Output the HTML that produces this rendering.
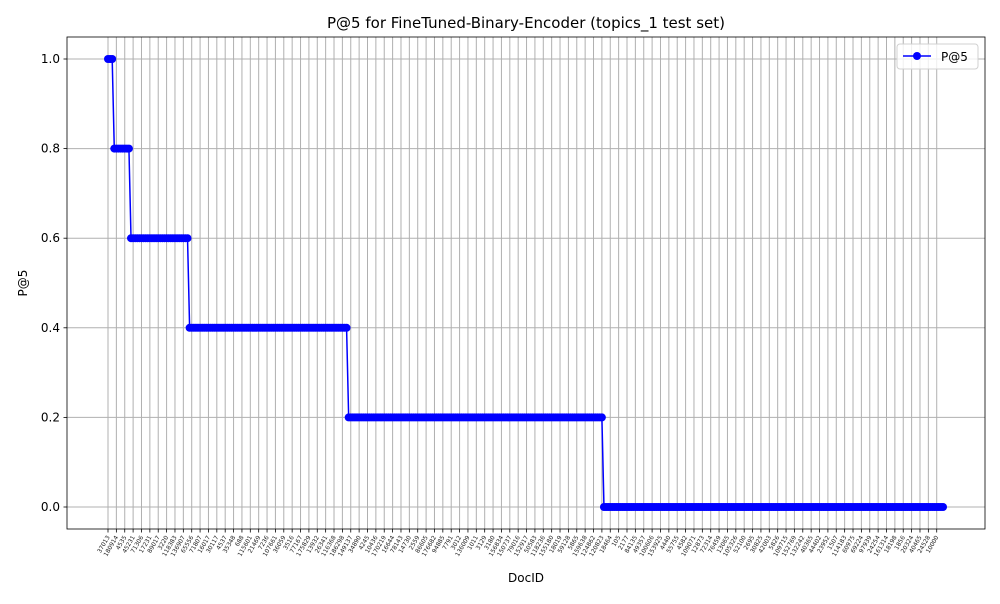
<!DOCTYPE html>
<html><head><meta charset="utf-8"><style>
body{margin:0;background:#fff;font-family:"DejaVu Sans","Liberation Sans",sans-serif;}
svg text{font-family:"DejaVu Sans","Liberation Sans",sans-serif;}
</style></head><body>
<svg id="chart" width="1000" height="600" xmlns="http://www.w3.org/2000/svg"></svg>
<script>
const stepValues=[1.0,0.8,0.6,0.4,0.2,0.0];
const stepCounts=[3,8,28,76,122,163];
const tickLabels=["37013","180914","4535","45231","71306","17231","89017","3220","118383","136907","65556","71807","16017","30117","4537","35348","688","115601","21469","7236","107661","36059","3516","77167","175829","13932","26341","116368","186298","149137","34890","4245","10436","170219","16644","78143","14730","2559","86605","176682","94885","7791","3012","136009","1011","3129","3180","156834","150737","79016","152917","50583","118236","155180","18019","59128","5865","159638","124862","120823","18464","105","2177","84135","49357","100606","153925","4440","55755","4582","109071","12873","72314","76459","13065","105326","52100","2695","30825","42003","5826","109715","152769","132242","40365","44402","23952","1507","114183","60975","69224","97939","24254","161314","18198","1856","20324","40465","24528","10000","10001","10002"].slice(0,100);
const yTicks=[0.0,0.2,0.4,0.6,0.8,1.0];
const tickEvery=4;

const values=[];
stepValues.forEach((v,i)=>{for(let k=0;k<stepCounts[i];k++)values.push(v);});
const N=values.length;
const L=67,R=985,T=37,B=529;
const x0=108,x1=943;
const xs=i=>x0+(x1-x0)*i/(N-1);
const ys=v=>507-(v)*448;
const svg=document.getElementById('chart');
const NS="http://www.w3.org/2000/svg";
function el(t,a,p){const e=document.createElementNS(NS,t);for(const k in a)e.setAttribute(k,a[k]);(p||svg).appendChild(e);return e;}

el('rect',{x:L,y:T,width:R-L,height:B-T,fill:'#fff'});
const grid=el('g',{});


for(let i=0;i<N;i+=tickEvery){
  const x=xs(i);
  el('line',{x1:x,x2:x,y1:T,y2:B,stroke:'#b0b0b0','stroke-width':1},grid);
}
yTicks.forEach(v=>{el('line',{x1:L,x2:R,y1:ys(v),y2:ys(v),stroke:'#b0b0b0','stroke-width':1},grid);});

const pts=values.map((v,i)=>xs(i)+','+ys(v)).join(' ');
const line=el('polyline',{points:pts,fill:'none',stroke:'#0000ff','stroke-width':1.5});


const mk=el('g',{fill:'#0000ff'});


values.forEach((v,i)=>{el('circle',{cx:xs(i),cy:ys(v),r:4},mk);});

el('rect',{x:L,y:T,width:R-L,height:B-T,fill:'none',stroke:'#000','stroke-width':0.8});

const xt=el('g',{});


for(let j=0;j*tickEvery<N&&j<tickLabels.length;j++){
  const x=xs(j*tickEvery);
  el('line',{x1:x,x2:x,y1:B,y2:B+3.5,stroke:'#000','stroke-width':0.8},xt);
  const t=el('text',{x:x+2,y:B+8,'font-size':6,'text-anchor':'end',fill:'#222',transform:`rotate(-60 ${x+2} ${B+8})`},xt);
  t.textContent=tickLabels[j];
}
const yt=el('g',{});


yTicks.forEach(v=>{
  el('line',{x1:L-3.5,x2:L,y1:ys(v),y2:ys(v),stroke:'#000','stroke-width':0.8},yt);
  const t=el('text',{x:L-7,y:ys(v)+4,'font-size':12,'text-anchor':'end',fill:'#000'},yt);
  t.textContent=v.toFixed(1);
});
const tt=el('text',{x:526,y:28,'font-size':15,'text-anchor':'middle',fill:'#000'});


tt.textContent='P@5 for FineTuned-Binary-Encoder (topics_1 test set)';
const xl=el('text',{x:526,y:582,'font-size':12,'text-anchor':'middle',fill:'#000'});


xl.textContent='DocID';
const yl=el('text',{x:27,y:283,'font-size':12,'text-anchor':'middle',fill:'#000',transform:'rotate(-90 27 283)'});


yl.textContent='P@5';
const lg=el('g',{});


el('rect',{x:897,y:44,width:81,height:25,rx:3,fill:'#fff','fill-opacity':0.8,stroke:'#d0d0d0'},lg);
el('line',{x1:903,x2:931,y1:56,y2:56,stroke:'#0000ff','stroke-width':1.5},lg);
el('circle',{cx:917,cy:56,r:4,fill:'#0000ff'},lg);
const lt=el('text',{x:941,y:61,'font-size':12,fill:'#000'},lg);
lt.textContent='P@5';
</script>
</body></html>
